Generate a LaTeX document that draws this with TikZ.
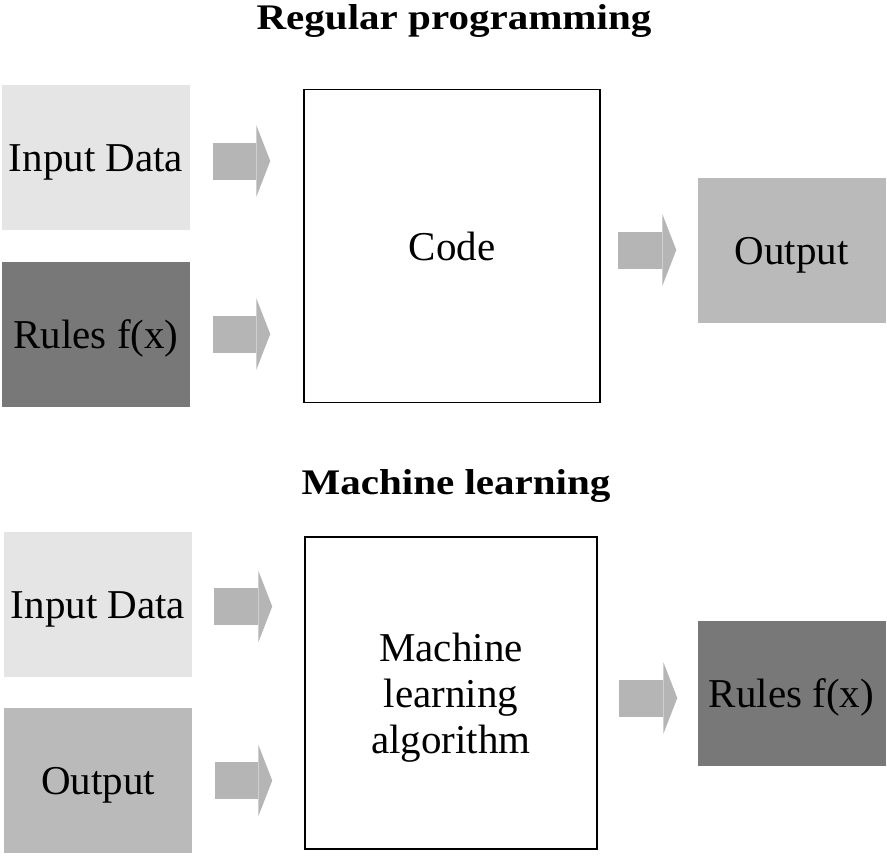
\documentclass[tikz,border=0pt]{standalone}
\usepackage{fontspec}
\setmainfont{Liberation Serif}
\usetikzlibrary{arrows.meta, positioning}

\definecolor{lightbox}{gray}{0.90}
\definecolor{midbox}{gray}{0.73}
\definecolor{darkbox}{gray}{0.47}
\definecolor{arrowgray}{gray}{0.71}

\newcommand{\headtext}[1]{\scalebox{1.14}[1]{#1}}

\begin{document}
\begin{tikzpicture}[x=1pt, y=-1pt, on grid, font=\fontsize{41}{46}\selectfont]
\useasboundingbox (0,0) rectangle (887,855);

	\tikzset{box/.style={minimum width=188pt, minimum height=145pt, inner sep=0pt, text height=28pt, text depth=0pt}}
	\tikzset{progbox/.style={draw=black, line width=1.5pt, inner sep=0pt, align=center, text depth=0pt}}
	\tikzset{heading/.style={anchor=base, font=\fontsize{36}{42}\selectfont\bfseries}}
	\tikzset{blockarrow/.style={line width=37pt, draw=arrowgray, -{Triangle[length=14pt, width=72pt, line width=0pt]}}}

\node[heading] (title_a) at (454,29) {\headtext{Regular programming}};
\node[box, fill=lightbox] (in_a) at (96,157) {Input Data};
\node[box, fill=darkbox] (rules_a) [below=177pt of in_a] {Rules f(x)};
\node[progbox, text height=28pt, minimum width=296pt, minimum height=313pt] (code) at (452,246) {Code};
\node[box, fill=midbox] (out_a) [right=339.5pt of code, yshift=-4pt] {Output};

\node[heading] (title_b) at (456,494) {\headtext{Machine learning}};
\node[box, fill=lightbox] (in_b) at (98,604.5) {Input Data};
\node[box, fill=midbox] (out_b) [below=176pt of in_b] {Output};
\node[progbox, minimum width=292pt, minimum height=312pt] (ml) at (451,693) {Machine\\learning\\algorithm};
\node[box, fill=darkbox] (rules_b) [right=340.5pt of ml] {Rules f(x)};

\draw[blockarrow, shorten <=23pt, shorten >=33pt] ([yshift=-4pt]in_a.east) -- ([yshift=-4pt]in_a -| code.west);
\draw[blockarrow, shorten <=23pt, shorten >=33pt] (rules_a.east) -- (rules_a -| code.west);
\draw[blockarrow, shorten <=17pt, shorten >=21pt] (out_a -| code.east) -- (out_a.west);

\draw[blockarrow, shorten <=22pt, shorten >=32pt] ([yshift=-2pt]in_b.east) -- ([yshift=-2pt]in_b -| ml.west);
\draw[blockarrow, shorten <=23pt, shorten >=32pt] (out_b.east) -- (out_b -| ml.west);
\draw[blockarrow, shorten <=21pt, shorten >=20pt] ([yshift=-5pt]rules_b -| ml.east) -- ([yshift=-5pt]rules_b.west);

\end{tikzpicture}
\end{document}
